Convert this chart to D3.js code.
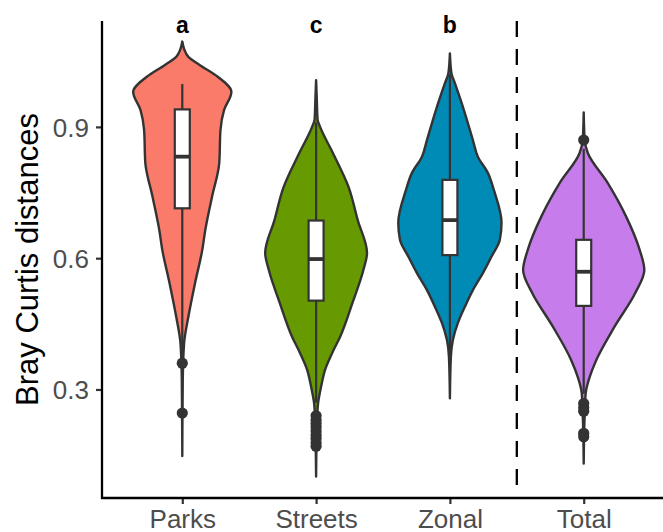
<!DOCTYPE html>
<html>
<head>
<meta charset="utf-8">
<script src="https://cdn.jsdelivr.net/npm/d3@7/dist/d3.min.js"></script>
<style>
  html, body { margin: 0; padding: 0; background: #ffffff; }
  svg { display: block; }
</style>
</head>
<body>
<svg id="chart" width="663" height="532"></svg>
<script>
// ---------- data ----------
const categories = ["Parks", "Streets", "Zonal", "Total"];
const letters = ["a", "c", "b", null];
const colors = ["#FB7B6B", "#679900", "#008BB7", "#C77CEC"];
const yTicks = [0.3, 0.6, 0.9];
const yTitle = "Bray Curtis distances";

// violin outlines: [value, relative half width]
const violinParks = [[1.095,0],[1.078,0.03],[1.060,0.10],[1.042,0.28],[1.014,0.59],[0.980,0.81],[0.939,0.69],[0.893,0.63],[0.818,0.61],[0.740,0.49],[0.665,0.38],[0.619,0.33],[0.543,0.21],[0.466,0.10],[0.406,0.03],[0.322,0.008],[0.148,0]];
const violinStreets = [[1.007,0],[0.962,0.012],[0.916,0.025],[0.900,0.066],[0.841,0.275],[0.763,0.535],[0.687,0.687],[0.612,0.84],[0.573,0.78],[0.498,0.60],[0.420,0.395],[0.383,0.264],[0.345,0.148],[0.306,0.082],[0.269,0.033],[0.230,0.016],[0.101,0]];
const violinZonal = [[1.068,0],[1.023,0.025],[1.000,0.082],[0.946,0.214],[0.870,0.379],[0.832,0.461],[0.795,0.626],[0.756,0.725],[0.681,0.852],[0.642,0.824],[0.604,0.687],[0.566,0.544],[0.527,0.379],[0.489,0.247],[0.452,0.132],[0.413,0.049],[0.375,0.016],[0.280,0]];
const violinTotal = [[0.933,0],[0.870,0.016],[0.841,0.066],[0.772,0.395],[0.695,0.70],[0.619,0.923],[0.573,1.0],[0.521,0.852],[0.444,0.511],[0.367,0.206],[0.329,0.099],[0.292,0.033],[0.230,0.013],[0.131,0]];

// boxplot stats: [whiskerLow, q1, median, q3, whiskerHigh]
const boxParks   = [0.38, 0.714, 0.832, 0.940, 0.998];
const boxStreets = [0.27, 0.503, 0.598, 0.686, 0.910];
const boxZonal   = [0.37, 0.607, 0.687, 0.779, 1.020];
const boxTotal   = [0.29, 0.491, 0.569, 0.642, 0.850];

const outParks   = [0.360, 0.246];
const outStreets = [0.240, 0.230, 0.222, 0.214, 0.205, 0.196, 0.188, 0.178, 0.170];
const outZonal   = [];
const outTotal   = [0.870, 0.268, 0.258, 0.250, 0.200, 0.192];

const violins = [violinParks, violinStreets, violinZonal, violinTotal];
const boxes = [boxParks, boxStreets, boxZonal, boxTotal];
const outliers = [outParks, outStreets, outZonal, outTotal];

// ---------- layout ----------
const svg = d3.select("#chart");
const pLeft = 102, pRight = 664, pTop = 21, pBottom = 498;
const font = "'Liberation Sans', Arial, Helvetica, sans-serif";
const ink = "#333333";

const x = d3.scalePoint().domain(categories).range([pLeft, pRight]).padding(0.6);
const y = d3.scaleLinear().domain([0.052, 1.142]).range([pBottom, pTop]);
const halfMax = x.step() * 0.453;
const boxHalf = 7.5;

// violins
categories.forEach((c, i) => {
  const cx = x(c);
  const area = d3.area()
    .x0(d => cx - d[1] * halfMax)
    .x1(d => cx + d[1] * halfMax)
    .y(d => y(d[0]))
    .curve(d3.curveMonotoneY);
  svg.append("path")
    .datum(violins[i])
    .attr("d", area)
    .attr("fill", colors[i])
    .attr("stroke", ink)
    .attr("stroke-width", 2.4)
    .attr("stroke-linejoin", "round");

  const b = boxes[i];
  svg.append("line").attr("x1", cx).attr("x2", cx).attr("y1", y(b[0])).attr("y2", y(b[1]))
    .attr("stroke", ink).attr("stroke-width", 2.2);
  svg.append("line").attr("x1", cx).attr("x2", cx).attr("y1", y(b[3])).attr("y2", y(b[4]))
    .attr("stroke", ink).attr("stroke-width", 2.2);
  svg.append("rect").attr("x", cx - boxHalf).attr("width", boxHalf * 2)
    .attr("y", y(b[3])).attr("height", y(b[1]) - y(b[3]))
    .attr("fill", "#ffffff").attr("stroke", ink).attr("stroke-width", 2.2);
  svg.append("line").attr("x1", cx - boxHalf).attr("x2", cx + boxHalf)
    .attr("y1", y(b[2])).attr("y2", y(b[2]))
    .attr("stroke", ink).attr("stroke-width", 3.8);
  svg.selectAll(null).data(outliers[i]).enter().append("circle")
    .attr("cx", cx).attr("cy", d => y(d)).attr("r", 5.6).attr("fill", ink);
  if (letters[i]) {
    svg.append("text").attr("x", cx).attr("y", 33)
      .attr("text-anchor", "middle").attr("font-family", font)
      .attr("font-weight", "bold").attr("font-size", 23).attr("fill", "#000")
      .text(letters[i]);
  }
});

// dashed separator
const sepX = (x("Zonal") + x("Total")) / 2;
svg.append("line").attr("x1", sepX).attr("x2", sepX).attr("y1", pTop).attr("y2", pBottom)
  .attr("stroke", "#000").attr("stroke-width", 2.3).attr("stroke-dasharray", "16,12");

// axes
const yAxis = svg.append("g").attr("transform", `translate(${pLeft},0)`)
  .call(d3.axisLeft(y).tickValues(yTicks).tickFormat(d3.format(".1f")).tickSize(6).tickPadding(7));
const xAxis = svg.append("g").attr("transform", `translate(0,${pBottom})`)
  .call(d3.axisBottom(x).tickSize(6).tickPadding(5));
[yAxis, xAxis].forEach(g => {
  g.select(".domain").remove();
  g.selectAll(".tick line").attr("stroke", ink).attr("stroke-width", 2.2);
  g.selectAll(".tick text").attr("font-family", font).attr("font-size", 26).attr("fill", "#4D4D4D");
});
yAxis.selectAll(".tick text").attr("dy", "0.35em");
xAxis.selectAll(".tick text").attr("dy", "0.71em").attr("y", 12);

svg.append("line").attr("x1", pLeft).attr("x2", pLeft).attr("y1", pTop).attr("y2", pBottom + 1)
  .attr("stroke", "#000").attr("stroke-width", 2.3);
svg.append("line").attr("x1", pLeft - 1).attr("x2", 663).attr("y1", pBottom).attr("y2", pBottom)
  .attr("stroke", "#000").attr("stroke-width", 2.3);

// y title
svg.append("text")
  .attr("transform", `translate(38, ${(pTop + pBottom) / 2}) rotate(-90)`)
  .attr("text-anchor", "middle").attr("font-family", font).attr("font-size", 31).attr("fill", "#000")
  .text(yTitle);
</script>
</body>
</html>
